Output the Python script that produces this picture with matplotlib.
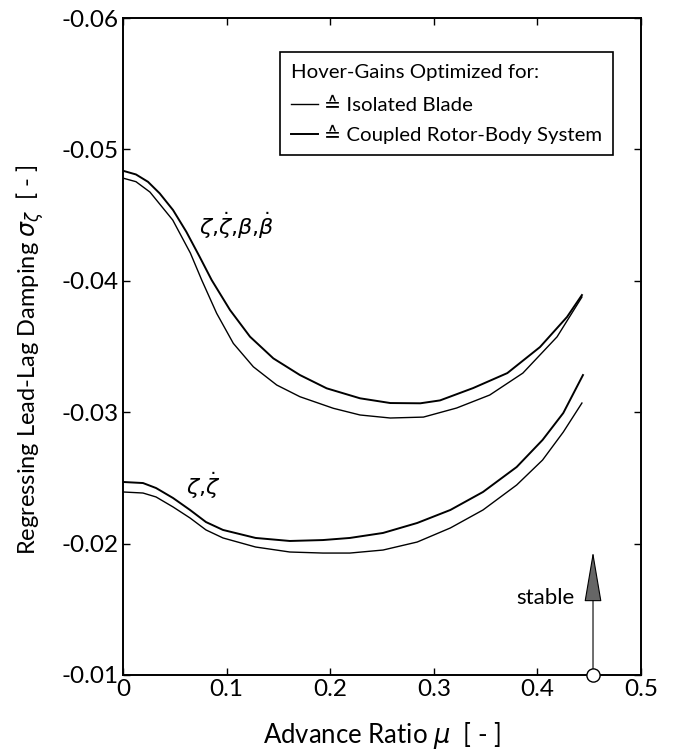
import matplotlib
matplotlib.use("Agg")
import matplotlib.pyplot as plt
from matplotlib.lines import Line2D
from matplotlib.ticker import FuncFormatter

plt.rcParams['font.family'] = ['Lato', 'DejaVu Sans']
plt.rcParams['mathtext.fontset'] = 'dejavusans'
plt.rcParams['axes.unicode_minus'] = False

# zeta, zeta-dot, beta, beta-dot feedback
mu_full_coupled = [0, 0.0125, 0.0241, 0.0354, 0.0483, 0.0611, 0.0740, 0.0856, 0.1033, 0.1226, 0.1451,
                   0.1708, 0.1966, 0.2288, 0.258, 0.287, 0.306, 0.338, 0.371, 0.4025, 0.4286, 0.443]
damp_full_coupled = [-0.04838, -0.04810, -0.04754, -0.04666, -0.04539, -0.04374, -0.04183, -0.04006,
                     -0.03778, -0.03575, -0.03410, -0.03283, -0.03182, -0.03106, -0.03070, -0.03068,
                     -0.03090, -0.03184, -0.03298, -0.03496, -0.03725, -0.03892]
mu_full_isolated = [0, 0.0125, 0.026, 0.048, 0.065, 0.076, 0.0904, 0.1065, 0.1258, 0.1484, 0.1708,
                    0.2030, 0.2288, 0.258, 0.290, 0.322, 0.354, 0.386, 0.419, 0.443]
damp_full_isolated = [-0.04782, -0.04755, -0.04676, -0.04463, -0.04212, -0.04006, -0.03753, -0.03524,
                      -0.03346, -0.03207, -0.03118, -0.03030, -0.02979, -0.02956, -0.02963, -0.03032,
                      -0.03131, -0.03298, -0.03574, -0.03877]

# zeta, zeta-dot feedback only
mu_lag_coupled = [0, 0.0193, 0.0319, 0.0483, 0.0647, 0.0801, 0.0965, 0.128, 0.161, 0.193, 0.219,
                  0.251, 0.284, 0.316, 0.3475, 0.380, 0.405, 0.425, 0.444]
damp_lag_coupled = [-0.02469, -0.02461, -0.02423, -0.02347, -0.02256, -0.02164, -0.02104, -0.02043,
                    -0.02020, -0.02027, -0.02043, -0.02081, -0.02157, -0.02256, -0.02393, -0.02583,
                    -0.02789, -0.02994, -0.03283]
mu_lag_isolated = [0, 0.0193, 0.0319, 0.0483, 0.0647, 0.0801, 0.0965, 0.128, 0.161, 0.193, 0.219,
                   0.251, 0.284, 0.316, 0.3475, 0.380, 0.405, 0.425, 0.443]
damp_lag_isolated = [-0.02393, -0.02385, -0.02355, -0.02279, -0.02195, -0.02104, -0.02043, -0.01974,
                     -0.01936, -0.01928, -0.01928, -0.01951, -0.02012, -0.02119, -0.02256, -0.02446,
                     -0.02636, -0.02849, -0.03070]

x_ticks = [0, 0.1, 0.2, 0.3, 0.4, 0.5]
y_ticks = [-0.06, -0.05, -0.04, -0.03, -0.02, -0.01]

fig = plt.figure(figsize=(6.74, 7.55), dpi=100)
ax = fig.add_axes([0.1825, 0.106, 0.7685, 0.870])

lw_iso, lw_cpl = 1.0, 1.4
ax.plot(mu_full_coupled, damp_full_coupled, color='k', lw=lw_cpl, solid_joinstyle='round')
ax.plot(mu_full_isolated, damp_full_isolated, color='k', lw=lw_iso, solid_joinstyle='round')
ax.plot(mu_lag_coupled, damp_lag_coupled, color='k', lw=lw_cpl, solid_joinstyle='round')
ax.plot(mu_lag_isolated, damp_lag_isolated, color='k', lw=lw_iso, solid_joinstyle='round')

ax.text(0.110, -0.0442, r'$\zeta{,}\dot{\zeta}{,}\beta{,}\dot{\beta}$', fontsize=16, ha='center', va='center')
ax.text(0.077, -0.0244, r'$\zeta{,}\dot{\zeta}$', fontsize=16, ha='center', va='center')

# stability direction marker
ax.annotate('', xy=(0.4537, -0.0194), xytext=(0.4537, -0.01),
            arrowprops=dict(arrowstyle='-|>,head_length=1.65,head_width=0.28', mutation_scale=20,
                            lw=0.8, edgecolor='k', facecolor='0.4', shrinkA=0, shrinkB=0))
ax.plot([0.4537], [-0.01], 'o', ms=9.5, mfc='white', mec='k', mew=1.0, clip_on=False, zorder=5)
ax.text(0.436, -0.01586, 'stable', fontsize=16, ha='right', va='center')

ax.set_xlim(0, 0.5)
ax.set_ylim(-0.01, -0.06)
ax.set_xticks(x_ticks)
ax.set_yticks(y_ticks)
ax.xaxis.set_major_formatter(FuncFormatter(lambda v, p: '0' if v == 0 else '%.1f' % v))
ax.yaxis.set_major_formatter(FuncFormatter(lambda v, p: '%.2f' % v))
ax.tick_params(direction='in', length=5, width=1.0, top=True, right=True, labelsize=17.5, pad=3)
for s in ax.spines.values():
    s.set_linewidth(1.4)

ax.set_xlabel(r'Advance Ratio $\mu$  [ - ]', fontsize=18.5, labelpad=14)
ax.set_ylabel(r'Regressing Lead-Lag Damping $\sigma_\zeta$  [ - ]', fontsize=17)
ax.yaxis.set_label_coords(-0.149, 0.48)

handles = [Line2D([], [], color='k', lw=lw_iso), Line2D([], [], color='k', lw=lw_cpl)]
labels = ['\u2259 Isolated Blade', '\u2259 Coupled Rotor-Body System']
leg = ax.legend(handles, labels, title='Hover-Gains Optimized for:', loc='upper right',
                bbox_to_anchor=(0.946, 0.948), borderaxespad=0, fontsize=14.7, title_fontsize=14.7,
                fancybox=False, edgecolor='k', framealpha=1, handlelength=1.3,
                handletextpad=0.3, labelspacing=0.5, borderpad=0.55, alignment='left')
leg.get_frame().set_linewidth(1.2)
leg._legend_box.sep = 12

fig.savefig('out.png', dpi=100)
